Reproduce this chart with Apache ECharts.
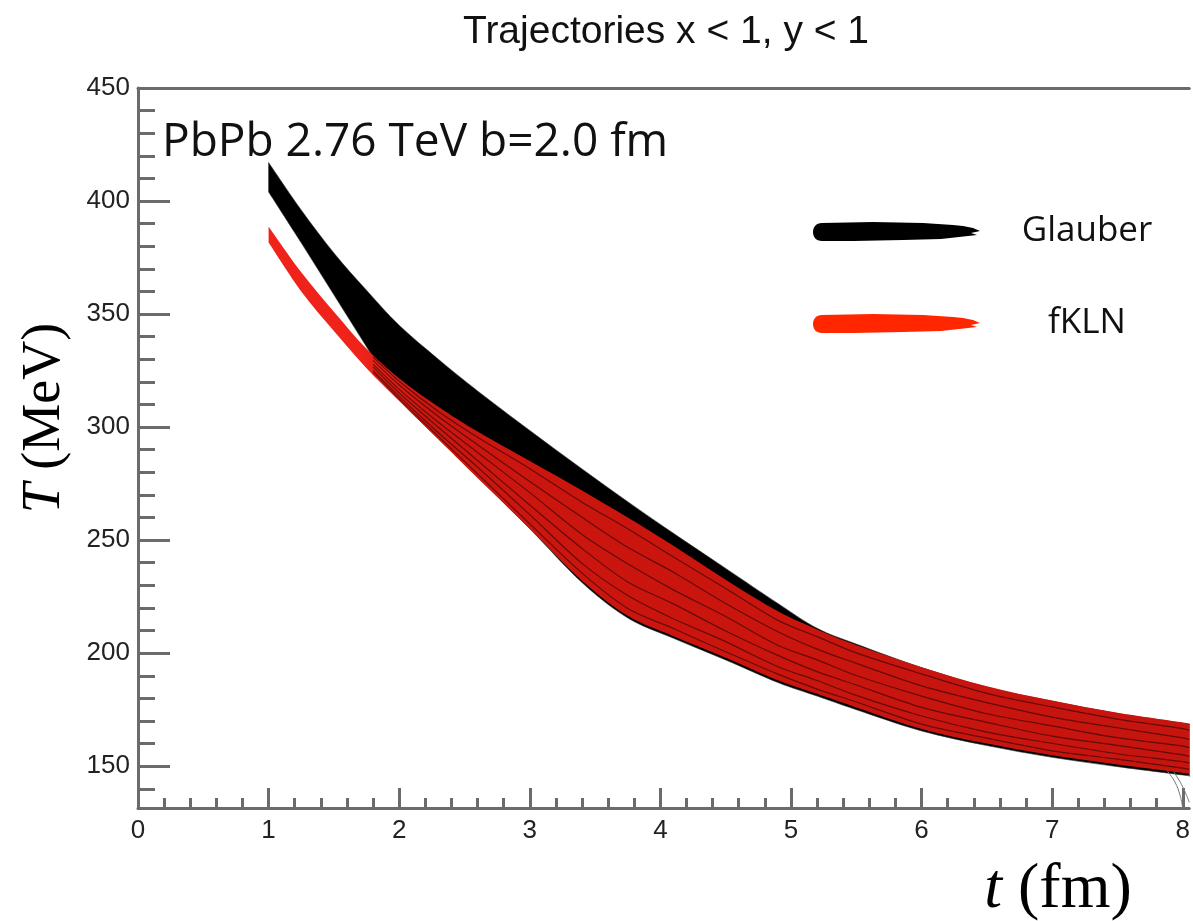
<!DOCTYPE html>
<html>
<head>
<meta charset="utf-8">
<script src="https://cdn.jsdelivr.net/npm/echarts@6/dist/echarts.min.js"></script>
<style>
  html, body { margin: 0; padding: 0; background: #fff; }
  #chart { width: 1193px; height: 921px; }
</style>
</head>
<body>
<div id="chart"></div>
<script>
// ---- data ----
const tGrid = [1, 1.25, 1.5, 1.75, 2, 2.3, 2.6, 3, 3.4, 3.75, 4.1, 4.5, 4.9, 5.2, 5.5, 6, 6.5, 7, 7.5, 8, 8.05];
const glauberUpper = [417, 396, 377, 360.5, 345, 330, 316, 298.5, 281.5, 267, 253, 237.5, 222, 211, 204, 193.6, 184.9, 178.7, 173.3, 169, 168.3];
const glauberLower = [404, 381.5, 358.5, 335.5, 312.5, 295, 278, 255, 231.2, 215.6, 206.6, 197, 187, 181, 175, 165.6, 159.1, 153.9, 149.8, 146.1, 145.7];
const fklnUpper = [388.6, 368.5, 351, 334.6, 321.5, 309, 298, 285, 272, 260, 247.5, 232.5, 218.5, 210.5, 203.6, 193.8, 185.4, 179, 173.6, 169.3, 168.6];
const fklnLower = [381.6, 360, 342.5, 326, 311.5, 294.5, 277.5, 255, 232, 216.5, 207.5, 198, 188, 182, 176, 166.5, 160, 154.8, 150.7, 147, 146.6];

// individual dark trajectories visible inside the fKLN band
const streakT = [1.8, 2, 2.3, 2.6, 3, 3.4, 3.75, 4.1, 4.5, 4.9, 5.2, 5.5, 6, 6.5, 7, 7.5, 8, 8.05];
const streaks = [
  [331, 320.3, 306.9, 295.5, 281.6, 266.8, 255, 242.5, 228.6, 214.5, 207.3, 200.1, 190.8, 182.2, 176.2, 170.8, 166.6, 165.9],
  [329.5, 318.6, 304.7, 292.2, 275.9, 260.1, 246.8, 235.8, 222, 209.5, 201.8, 195.5, 185.5, 178.1, 171.7, 167, 162.5, 161.8],
  [327.8, 316.7, 302.1, 288.8, 271, 252.5, 239.5, 228, 216.2, 203.5, 197, 190.1, 181, 173.2, 167.8, 162.6, 158.9, 158.2],
  [326.6, 315.1, 299.9, 285.2, 265.5, 246.3, 231.5, 221.8, 209.8, 199, 191.8, 185.9, 176, 169.4, 163.3, 159.2, 155, 154.4],
  [325.1, 313.6, 297.5, 282.3, 261.3, 239.7, 225.5, 215.2, 205.1, 194, 187.9, 181.3, 172.2, 165.1, 160.1, 155.5, 152, 151.4],
  [324.3, 312.5, 295.9, 279.3, 257.2, 235.4, 219.8, 210.9, 200.6, 190.7, 184.1, 178.4, 168.6, 162.4, 156.8, 153.1, 149.1, 148.6]
];
// trajectories dropping to the axis near t = 8
const dropT1 = [7.88, 7.94, 7.98, 8.0];
const dropV1 = [148, 143, 137, 131.5];
const dropT2 = [7.93, 7.99, 8.03, 8.05];
const dropV2 = [147.5, 142, 137, 134];

const yMajor = [150, 200, 250, 300, 350, 400, 450];
const yMinor = [140, 160, 170, 180, 190, 210, 220, 230, 240, 260, 270, 280, 290, 310, 320, 330, 340, 360, 370, 380, 390, 410, 420, 430, 440];
const xMajor = [0, 1, 2, 3, 4, 5, 6, 7, 8];
const xMinor = [0.2, 0.4, 0.6, 0.8, 1.2, 1.4, 1.6, 1.8, 2.2, 2.4, 2.6, 2.8, 3.2, 3.4, 3.6, 3.8, 4.2, 4.4, 4.6, 4.8, 5.2, 5.4, 5.6, 5.8, 6.2, 6.4, 6.6, 6.8, 7.2, 7.4, 7.6, 7.8];

const titleText = 'Trajectories x < 1, y < 1';
const noteText = 'PbPb 2.76 TeV b=2.0 fm';

// ---- chart ----
const AX = '#6b6b6b';
const chart = echarts.init(document.getElementById('chart'));
const pairs = (xs, ys) => xs.map((x, i) => [x, ys[i]]);
const brush = 'path://M9,1 L60,0 L110,1 L140,3 L150,4 L160,6 L167,9 L158,11 L164,13 L146,15 L128,17 L90,18 L40,19 L9,19 C3,19 0,15 0,10 C0,5 3,1 9,1 Z';

// smooth curve (Catmull-Rom) through pixel points, as path commands
function curve(P) {
  let d = '';
  const n = P.length;
  for (let i = 0; i < n - 1; i++) {
    const p0 = P[Math.max(i - 1, 0)], p1 = P[i], p2 = P[i + 1], p3 = P[Math.min(i + 2, n - 1)];
    const c1 = [p1[0] + (p2[0] - p0[0]) / 6, p1[1] + (p2[1] - p0[1]) / 6];
    const c2 = [p2[0] - (p3[0] - p1[0]) / 6, p2[1] - (p3[1] - p1[1]) / 6];
    d += ' C' + c1[0] + ' ' + c1[1] + ' ' + c2[0] + ' ' + c2[1] + ' ' + p2[0] + ' ' + p2[1];
  }
  return d;
}
function bandRenderer(ts, up, lo, style) {
  return function (params, api) {
    const U = ts.map((t, i) => api.coord([t, up[i]]));
    const L = ts.map((t, i) => api.coord([t, lo[i]])).reverse();
    const d = 'M' + U[0][0] + ' ' + U[0][1] + curve(U) + ' L' + L[0][0] + ' ' + L[0][1] + curve(L) + ' Z';
    return { type: 'path', shape: { pathData: d }, style: style };
  };
}

const redFill = new echarts.graphic.LinearGradient(0, 0, 1, 0, [
  { offset: 0, color: '#f0231a' }, { offset: 0.1, color: '#f0231a' },
  { offset: 0.17, color: '#cc160f' }, { offset: 1, color: '#c6140e' }]);

const series = [
  { name: 'Glauber', type: 'custom', data: [[tGrid[0], glauberUpper[0]]], itemStyle: { color: '#000' },
    renderItem: bandRenderer(tGrid, glauberUpper, glauberLower, { fill: '#000', stroke: '#333', lineWidth: 0.6 }) },
  { name: 'fKLN', type: 'custom', data: [[tGrid[0], fklnUpper[0]]], itemStyle: { color: '#ee2219' },
    renderItem: bandRenderer(tGrid, fklnUpper, fklnLower, { fill: redFill }) }
];
streaks.forEach((s, k) => series.push({
  name: '_s' + k, type: 'line', data: pairs(streakT, s), smooth: 0.3, symbol: 'none', silent: true,
  lineStyle: { color: '#000', width: 1.2, opacity: 0.5 }
}));
series.push({ name: '_d1', type: 'line', data: pairs(dropT1, dropV1), smooth: 0.4, symbol: 'none', silent: true,
  lineStyle: { color: '#777', width: 1 } });
series.push({ name: '_d2', type: 'line', data: pairs(dropT2, dropV2), smooth: 0.4, symbol: 'none', silent: true,
  lineStyle: { color: '#777', width: 1 } });

const option = {
  backgroundColor: '#fff',
  animation: false,
  title: {
    text: titleText, left: 458, top: 8,
    textStyle: { fontFamily: 'Liberation Sans', fontSize: 39, fontWeight: 'normal', color: '#111' }
  },
  grid: { left: 138, right: 0, top: 88, bottom: 113, containLabel: false },
  legend: {
    data: [{ name: 'Glauber', itemStyle: { color: '#000' } }, { name: 'fKLN', itemStyle: { color: '#ff2600' } }],
    orient: 'vertical', left: 808, top: 209, itemWidth: 167, itemHeight: 20, itemGap: 57,
    icon: brush, selectedMode: false,
    formatter: '{a|{name}}',
    textStyle: { rich: { a: { width: 204, align: 'center', fontSize: 35, fontFamily: 'Open Sans', color: '#111' } } }
  },
  xAxis: [
    { type: 'value', min: 0, max: 8.05, position: 'bottom',
      axisLine: { show: true, lineStyle: { color: AX, width: 3 } },
      axisTick: { show: true, inside: true, length: 20, customValues: xMajor, lineStyle: { color: AX, width: 3 } },
      axisLabel: { show: true, customValues: xMajor, margin: 10, fontSize: 26, fontFamily: 'Liberation Sans', color: '#222' },
      splitLine: { show: false } },
    { type: 'value', min: 0, max: 8.05, position: 'bottom',
      axisLine: { show: false },
      axisTick: { show: true, inside: true, length: 10, customValues: xMinor, lineStyle: { color: AX, width: 3 } },
      axisLabel: { show: false }, splitLine: { show: false } },
    { type: 'value', min: 0, max: 8.05, position: 'top',
      axisLine: { show: true, lineStyle: { color: AX, width: 3 } },
      axisTick: { show: false }, axisLabel: { show: false }, splitLine: { show: false } }
  ],
  yAxis: [
    { type: 'value', min: 131.5, max: 450, position: 'left',
      axisLine: { show: true, lineStyle: { color: AX, width: 3 } },
      axisTick: { show: true, inside: true, length: 32, customValues: yMajor, lineStyle: { color: AX, width: 3 } },
      axisLabel: { show: true, customValues: yMajor, margin: 8, fontSize: 26, fontFamily: 'Liberation Sans', color: '#222' },
      splitLine: { show: false } },
    { type: 'value', min: 131.5, max: 450, position: 'left',
      axisLine: { show: false },
      axisTick: { show: true, inside: true, length: 17, customValues: yMinor, lineStyle: { color: AX, width: 3 } },
      axisLabel: { show: false }, splitLine: { show: false } }
  ],
  series: series,
  graphic: [
    { type: 'text', left: 162, top: 120, silent: true,
      style: { text: noteText, font: '46px "Open Sans"', fill: '#111' } },
    { type: 'text', x: 45, y: 418, rotation: Math.PI / 2, silent: true,
      style: { text: '{i|T} (MeV)', align: 'center', verticalAlign: 'middle', font: '54px "Liberation Serif"', fill: '#000',
        rich: { i: { fontStyle: 'italic', fontSize: 54, fontFamily: 'Liberation Serif' } } } },
    { type: 'text', x: 1058, y: 890, silent: true,
      style: { text: '{i|t} (fm)', align: 'center', verticalAlign: 'middle', font: '64px "Liberation Serif"', fill: '#000',
        rich: { i: { fontStyle: 'italic', fontSize: 64, fontFamily: 'Liberation Serif' } } } }
  ]
};
chart.setOption(option);
</script>
</body>
</html>
